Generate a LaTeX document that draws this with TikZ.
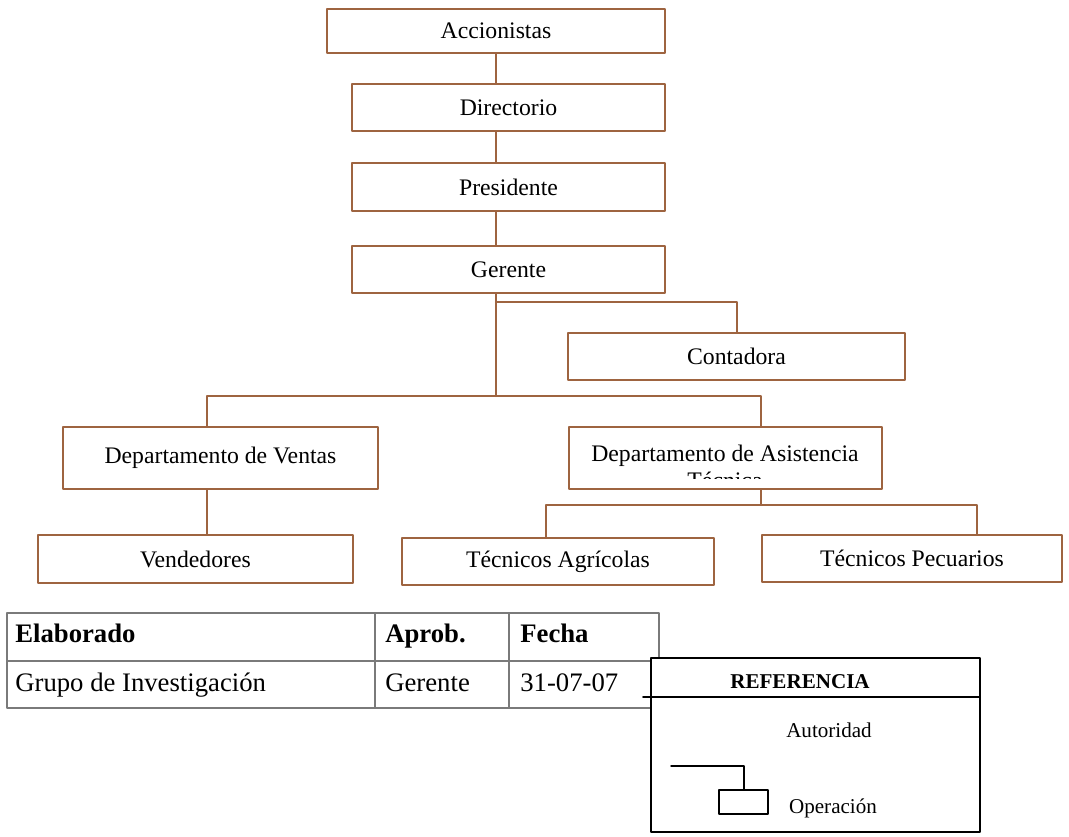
\documentclass[tikz,border=0pt]{standalone}
\usepackage{fontspec}
\setmainfont{Liberation Serif}
\usetikzlibrary{positioning, calc}
\definecolor{marron}{HTML}{9E6440}
\definecolor{grisborde}{HTML}{7A7A7A}

\begin{document}
\begin{tikzpicture}[x=0.02cm, y=-0.02cm, line cap=round, line join=round,
    caja/.style={draw=marron, line width=1.3pt, fill=white, inner sep=0pt, font=\fontsize{13.5}{15}\selectfont},
    linea/.style={draw=marron, line width=1.3pt},
    celda/.style={anchor=base west, inner sep=0pt, font=\fontsize{15.2}{18}\selectfont},
    leyenda/.style={inner sep=0pt, font=\fontsize{12}{14}\selectfont}]
  \useasboundingbox (0,0) rectangle (1069,836);

  % Cadena de mando
  \node[caja, minimum width=6.76cm, minimum height=0.88cm] (acc) at (496,31) {Accionistas};
  \node[caja, minimum width=6.26cm, minimum height=0.94cm] (dir) at (508.5,107.5) {Directorio};
  \node[caja, minimum width=6.26cm, minimum height=0.96cm] (pres) at (508.5,187) {Presidente};
  \node[caja, minimum width=6.26cm, minimum height=0.94cm] (ger) at (508.5,269.5) {Gerente};
  \node[caja, minimum width=6.74cm, minimum height=0.94cm] (cont) at (736.5,356.5) {Contadora};

  % Departamentos
  \node[caja, minimum width=6.30cm, minimum height=1.24cm] (vent) at (220.5,458) {Departamento de Ventas};
  \node[caja, minimum width=6.26cm, minimum height=1.24cm] (asist) at (725.5,458) {};
  \begin{scope}
    \clip (569,427) rectangle (882,478);
    \node[inner sep=0pt, align=center, font=\fontsize{13.5}{15}\selectfont] (asistxt) at (725,467) {Departamento de Asistencia\\Técnica};
  \end{scope}

  % Operativos
  \node[caja, minimum width=6.30cm, minimum height=0.96cm] (vend) at (195.5,559) {Vendedores};
  \node[caja, minimum width=6.24cm, minimum height=0.94cm] (agri) at (558,561.5) {Técnicos Agrícolas};
  \node[caja, minimum width=6.00cm, minimum height=0.94cm] (pec) at (912,558.5) {Técnicos Pecuarios};

  % Conectores
  \coordinate (cc) at (737,302);
  \coordinate (cv) at (207,396);
  \coordinate (ca) at (761,396);
  \coordinate (tl) at (546,505);
  \coordinate (tr) at (977,505);
  \draw[linea] (acc.south) -- (acc.south |- dir.north);
  \draw[linea] (acc.south |- dir.south) -- (acc.south |- pres.north);
  \draw[linea] (acc.south |- pres.south) -- (acc.south |- ger.north);
  \draw[linea] (acc.south |- ger.south) -- (acc.south |- cv);
  \draw[linea] (acc.south |- cc) -- (cc) -- (cc |- cont.north);
  \draw[linea] (cv |- vent.north) -- (cv) -- (ca) -- (ca |- asist.north);
  \draw[linea] (cv |- vent.south) -- (cv |- vend.north);
  \draw[linea] (ca |- asist.south) -- (ca |- tl);
  \draw[linea] (tl |- agri.north) -- (tl) -- (tr) -- (tr |- pec.north);

  % Tabla
  \draw[grisborde, line width=0.7pt] (7,613) rectangle (659,708);
  \draw[grisborde, line width=0.7pt] (7,661) -- (659,661);
  \draw[grisborde, line width=0.7pt] (375,613) -- (375,708);
  \draw[grisborde, line width=0.7pt] (509,613) -- (509,708);
  \node[celda, font=\fontsize{15.2}{18}\selectfont\bfseries] (elab) at (15,642) {Elaborado};
  \node[celda, font=\fontsize{15.2}{18}\selectfont\bfseries] (aprob) at (385,642) {Aprob.};
  \node[celda, font=\fontsize{15.2}{18}\selectfont\bfseries] (fecha) at (520,642) {Fecha};
  \node[celda] (grupo) at (15,691) {Grupo de Investigación};
  \node[celda] (aprobv) at (385,691) {Gerente};
  \node[celda] (fechav) at (520,691) {31-07-07};

  % Referencia
  \draw[black, line width=0.9pt, fill=white] (651,658) rectangle (980,832);
  \draw[black, line width=0.9pt] (643,697) -- (980,697);
  \node[leyenda, font=\fontsize{12}{14}\selectfont\bfseries] (ref) at (800,682) {REFERENCIA};
  \node[leyenda] (aut) at (829,730) {Autoridad};
  \node[leyenda] (oper) at (833,808) {Operación};
  \draw[black, line width=0.8pt] (671,766) -- (744,766) -- (744,790);
  \draw[black, line width=0.8pt] (719,790) rectangle (768,814);
\end{tikzpicture}
\end{document}
